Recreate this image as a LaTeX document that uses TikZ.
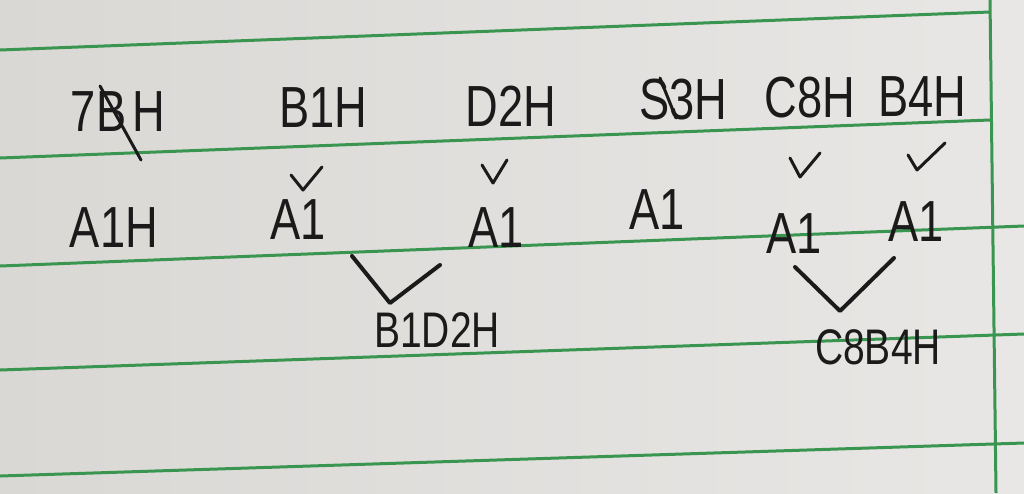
\documentclass[tikz,border=0pt]{standalone}
\usepackage{fontspec}
\setmainfont{Liberation Sans}
\definecolor{paper}{HTML}{DAD8D5}
\definecolor{paperlight}{HTML}{E8E7E5}
\definecolor{rule}{HTML}{3A9550}
\definecolor{ink}{HTML}{1A1A1A}
\begin{document}
\begin{tikzpicture}[x=1pt,y=-1pt,
  hand/.style={text=ink,inner sep=0pt,xscale=0.78,font=\fontsize{58}{66}\selectfont},
  handsmall/.style={text=ink,inner sep=0pt,xscale=0.78,font=\fontsize{50}{58}\selectfont},
  pen/.style={draw=ink,line width=3pt,line cap=round,line join=round},
  bigpen/.style={draw=ink,line width=4pt,line cap=round,line join=round},
  ruling/.style={draw=rule,line width=3pt}]
\useasboundingbox (0,0) rectangle (1024,493);
\shade[left color=paper,right color=paperlight] (0,0) rectangle (1024,493);
% ruled lines
\draw[ruling] (0,50) -- (990,12);
\draw[ruling] (0,158) -- (990,120);
\draw[ruling] (0,266) -- (1024,226);
\draw[ruling] (0,370) -- (1024,334);
\draw[ruling] (0,476) -- (1024,443);
\draw[ruling] (990,0) -- (996,493);
% top row
\node[hand] (t1) at (118,112) {7B\hspace{8pt}H};
\node[hand] (t2) at (323,108) {B1H};
\node[hand] (t3) at (511,106) {D2H};
\node[hand] (t4) at (683,100) {S3H};
\node[hand] (t5) at (810,98) {C8H};
\node[hand] (t6) at (922,97) {B4H};
\draw[pen] (100,86) -- (141,160);
\draw[pen] (660,78) -- (676,118);
% second row
\node[hand] (a0) at (114,228) {A1H};
\node[hand] (a1) at (298,220) {A1};
\node[hand] (a2) at (496,228) {A1};
\node[hand] (a3) at (657,210) {A1};
\node[hand] (a4) at (794,234) {A1};
\node[hand] (a5) at (916,222) {A1};
% check marks
\draw[pen] (291,175) -- (303,190) -- (322,167);
\draw[pen] (482,165) -- (493,183) -- (507,160);
\draw[pen] (790,158) -- (800,177) -- (820,153);
\draw[pen] (908,155) -- (917,170) -- (945,143);
% merges
\coordinate (v1l) at (352,256);
\coordinate (v1b) at (390,303);
\coordinate (v1r) at (440,265);
\draw[bigpen] (v1l) -- (v1b) -- (v1r);
\node[handsmall] (m1) at (437,330) {B1D2H};
\coordinate (v2l) at (795,267);
\coordinate (v2b) at (840,311);
\coordinate (v2r) at (894,258);
\draw[bigpen] (v2l) -- (v2b) -- (v2r);
\node[handsmall] (m2) at (878,347) {C8B4H};
\end{tikzpicture}
\end{document}
